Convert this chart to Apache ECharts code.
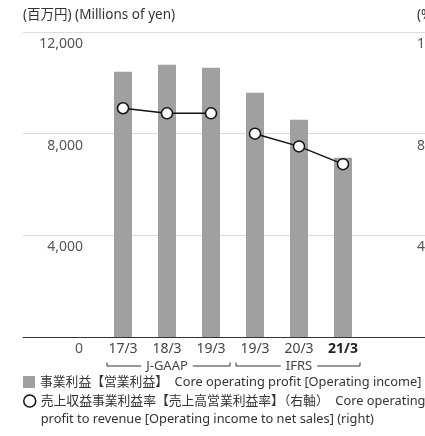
<!DOCTYPE html>
<html><head><meta charset="utf-8">
<script src="https://cdn.jsdelivr.net/npm/echarts@6/dist/echarts.min.js"></script>
<style>html,body{margin:0;padding:0;overflow:hidden;background:#fff;width:425px;height:436px}#c{width:480px;height:520px}</style>
</head><body><div id="c"></div>
<script>
const categories = ['17/3', '18/3', '19/3', '19/3', '20/3', '21/3'];
const profit = [10440, 10710, 10590, 9610, 8550, 7050];
const marginJGAAP = [9.0, 8.8, 8.8, '-', '-', '-'];
const marginIFRS = ['-', '-', '-', 8.0, 7.5, 6.8];
const groupNames = ['J-GAAP', 'IFRS'];
const groupRanges = [[0, 2], [3, 5]];
const barName = '事業利益【営業利益】  Core operating profit [Operating income]';
const lineNameLines = ['売上収益事業利益率【売上高営業利益率】（右軸）  Core operating', 'profit to revenue [Operating income to net sales] (right)'];
const lineName = lineNameLines.join(' ');

const FONT = "'Noto Sans', 'Noto Sans CJK JP', sans-serif";
const H = 520;
const chart = echarts.init(document.getElementById('c'), null, { renderer: 'canvas' });

const legendText = { fontSize: 12.8, color: '#333', lineHeight: 18, fontFamily: FONT };

chart.setOption({
  animation: false,
  textStyle: { fontFamily: FONT },
  grid: [
    { left: 23, right: 0, top: 32, bottom: H - 337 },
    { left: 101, width: 264, top: 32, bottom: H - 337 }
  ],
  xAxis: [
    { gridIndex: 0, type: 'category', data: [''], axisLine: { lineStyle: { color: '#333', width: 1 } },
      axisTick: { show: false }, axisLabel: { show: false } },
    { gridIndex: 1, type: 'category', data: categories, axisLine: { show: false }, axisTick: { show: false },
      axisLabel: { interval: 0, margin: 5, fontSize: 14, color: '#444', fontFamily: FONT,
        formatter: (v, i) => i === categories.length - 1 ? '{b|' + v + '}' : v,
        rich: { b: { fontSize: 14, fontWeight: 'bold', color: '#222', fontFamily: FONT } } } },
    { gridIndex: 1, type: 'category', position: 'bottom', data: groupNames, axisLine: { show: false }, axisTick: { show: false },
      axisLabel: { interval: 0, margin: 21, fontSize: 13, lineHeight: 16, color: '#444', fontFamily: FONT,
        backgroundColor: '#fff', padding: [0, 5] } }
  ],
  yAxis: [
    { gridIndex: 0, type: 'value', min: 0, max: 12000, interval: 4000,
      name: '(百万円) (Millions of yen)', nameLocation: 'end', nameGap: 17,
      nameTextStyle: { align: 'left', verticalAlign: 'middle', fontSize: 13.5, color: '#333', fontFamily: FONT },
      axisLine: { show: false }, axisTick: { show: false },
      splitLine: { lineStyle: { color: '#dcdcdc', width: 1 } },
      axisLabel: { inside: true, margin: 60, align: 'right', verticalAlign: 'top', padding: [5, 0, 0, 0],
        fontSize: 14, color: '#555', fontFamily: FONT, formatter: v => v.toLocaleString('en-US') } },
    { gridIndex: 1, type: 'value', min: 0, max: 12000, interval: 4000, show: false, splitLine: { show: false } },
    { gridIndex: 1, type: 'value', position: 'right', offset: 52, min: 0, max: 12, interval: 4,
      name: '(%)', nameLocation: 'end', nameGap: 17,
      nameTextStyle: { align: 'left', verticalAlign: 'middle', fontSize: 13.5, color: '#333', fontFamily: FONT },
      axisLine: { show: false }, axisTick: { show: false }, splitLine: { show: false },
      axisLabel: { margin: 0, align: 'left', verticalAlign: 'top', padding: [5, 0, 0, 0], showMinLabel: false,
        fontSize: 14, color: '#555', fontFamily: FONT } }
  ],
  legend: [
    { orient: 'vertical', left: 23, top: 373, padding: 0, itemWidth: 12, itemHeight: 12,
      textStyle: legendText,
      data: [{ name: barName, icon: 'rect', itemStyle: { color: '#a0a0a0' } }] },
    { orient: 'vertical', left: 23, top: 374, padding: 0, itemWidth: 12, itemHeight: 12,
      textStyle: legendText,
      formatter: () => '\n' + lineNameLines.join('\n'),
      data: [{ name: lineName, icon: 'circle', itemStyle: { color: '#fff', borderColor: '#111', borderWidth: 1.5 } }] }
  ],
  series: [
    { name: barName, type: 'bar', xAxisIndex: 1, yAxisIndex: 1, data: profit, barWidth: 18,
      itemStyle: { color: '#a0a0a0' } },
    { name: lineName, type: 'line', xAxisIndex: 1, yAxisIndex: 2, data: marginJGAAP, z: 5,
      symbol: 'circle', symbolSize: 11, connectNulls: false,
      itemStyle: { color: '#fff', borderColor: '#111', borderWidth: 1.5 },
      lineStyle: { color: '#111', width: 1.5 } },
    { name: lineName, type: 'line', xAxisIndex: 1, yAxisIndex: 2, data: marginIFRS, z: 5,
      symbol: 'circle', symbolSize: 11, connectNulls: false,
      itemStyle: { color: '#fff', borderColor: '#111', borderWidth: 1.5 },
      lineStyle: { color: '#111', width: 1.5 } }
  ]
});

// group brackets under the category labels (drawn beneath the group labels)
const base = chart.convertToPixel({ yAxisIndex: 0 }, 0);
const graphics = groupRanges.map((r, gi) => {
  const x1 = chart.convertToPixel({ xAxisIndex: 1 }, r[0]) - (gi === 0 ? 16 : 19);
  const x2 = chart.convertToPixel({ xAxisIndex: 1 }, r[1]) + (gi === 0 ? 19 : 17);
  const yTop = base + 25.5, yLine = base + 29;
  return { type: 'polyline', z: -1, silent: true,
    shape: { points: [[x1, yTop], [x1, yLine], [x2, yLine], [x2, yTop]] },
    style: { stroke: '#333', lineWidth: 1, fill: null } };
});
chart.setOption({ graphic: graphics });
</script></body></html>
